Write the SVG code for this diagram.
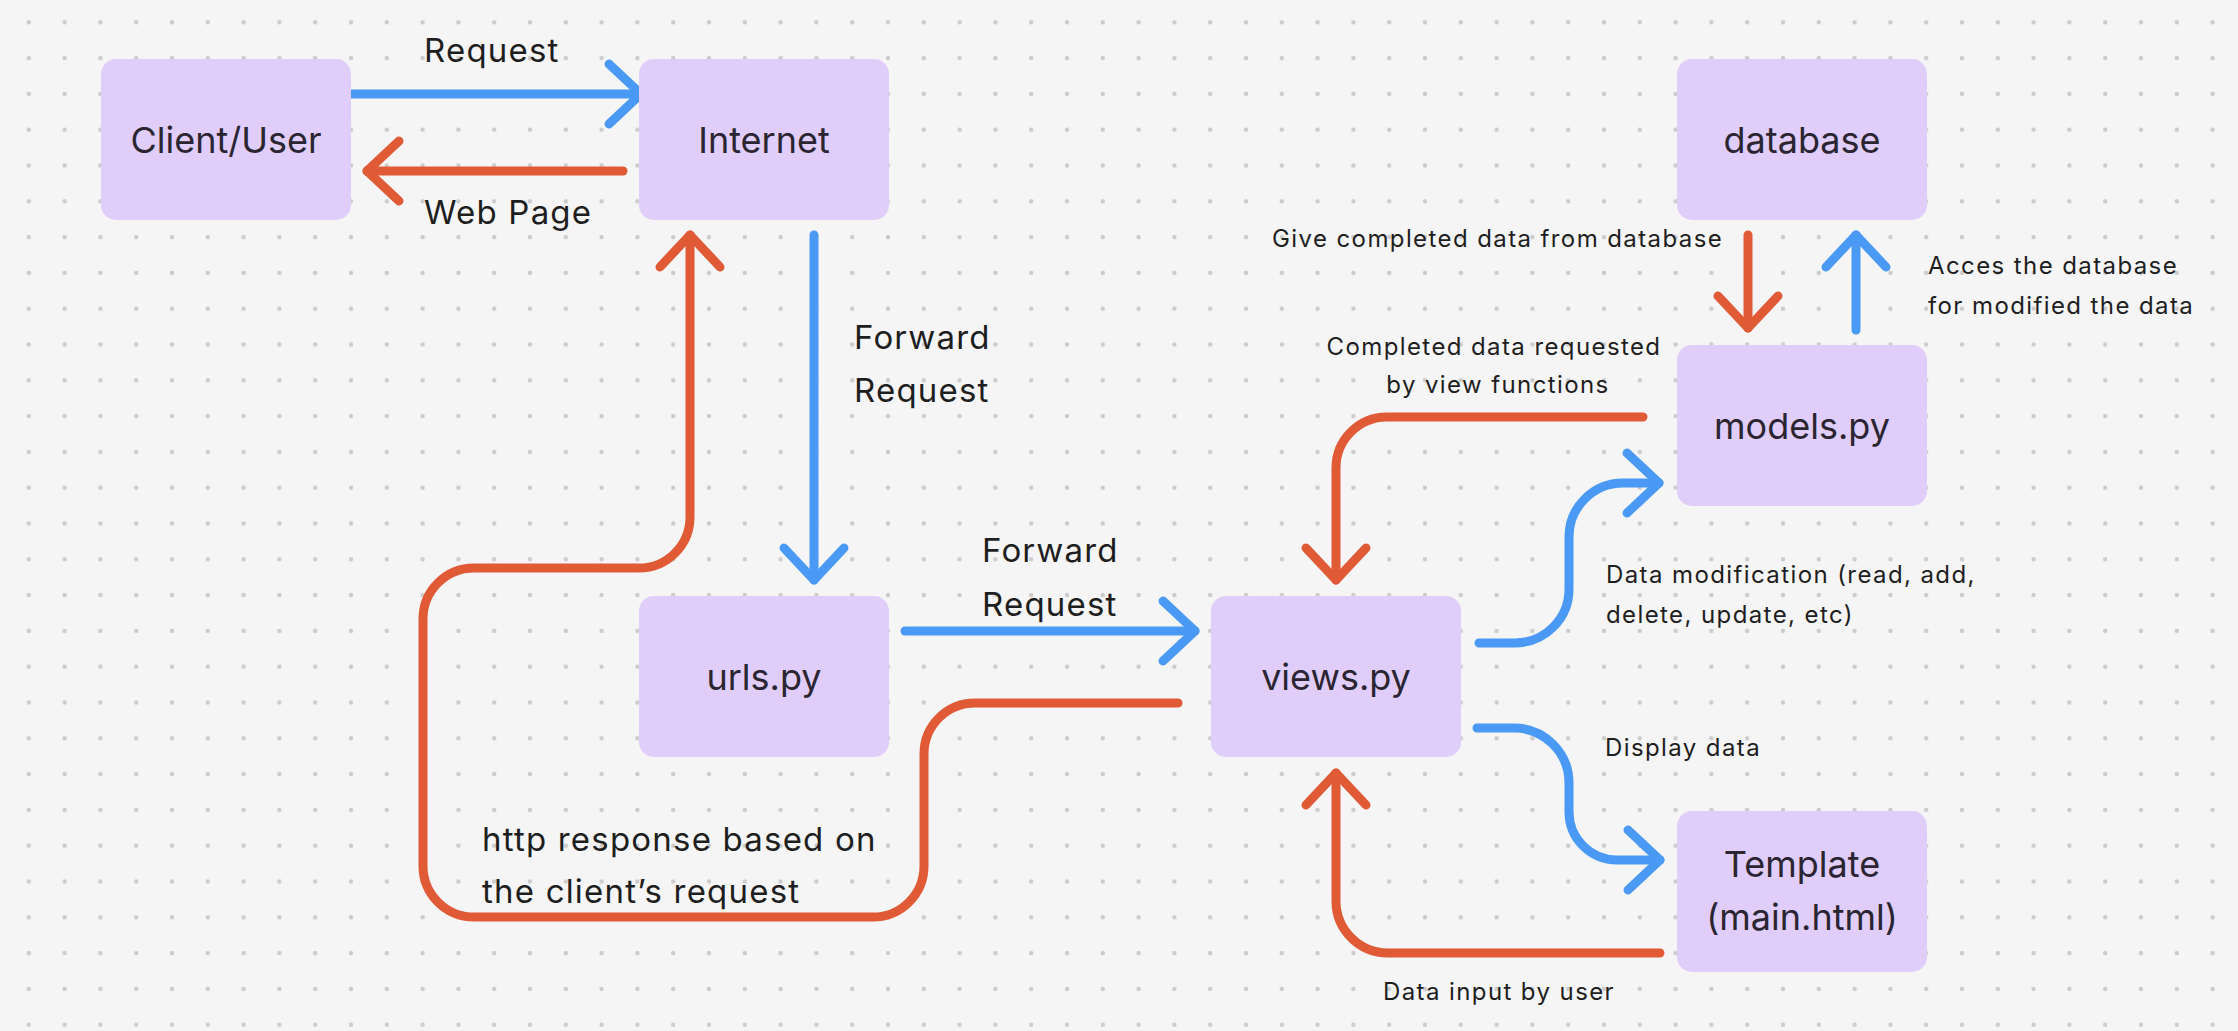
<svg xmlns="http://www.w3.org/2000/svg" width="2238" height="1031" viewBox="0 0 2238 1031">
<defs>
<pattern id="dots" x="10.9" y="4.4" width="35.8" height="35.8" patternUnits="userSpaceOnUse"><circle cx="17.9" cy="17.9" r="2.2" fill="#cbcbcb"/></pattern>
<marker id="ab" markerUnits="userSpaceOnUse" markerWidth="90" markerHeight="90" viewBox="-45 -45 90 90" refX="0" refY="0" orient="auto" overflow="visible"><path d="M-32,-30 L0,0 L-32,30" fill="none" stroke="#4A9AF5" stroke-width="9" stroke-linecap="round" stroke-linejoin="round"/></marker>
<marker id="ao" markerUnits="userSpaceOnUse" markerWidth="90" markerHeight="90" viewBox="-45 -45 90 90" refX="0" refY="0" orient="auto" overflow="visible"><path d="M-32,-30 L0,0 L-32,30" fill="none" stroke="#E05A36" stroke-width="9" stroke-linecap="round" stroke-linejoin="round"/></marker>
</defs>
<style>
.node rect{fill:#E0CDFA;}
.node text{font-family:Inter,"Noto Sans",sans-serif;font-size:36px;fill:#2a2531;text-anchor:middle;}
.c{fill:none;stroke-width:9;stroke-linecap:round;stroke-linejoin:round;}
.b{stroke:#4A9AF5;marker-end:url(#ab);}
.o{stroke:#E05A36;marker-end:url(#ao);}
.lbl{font-family:Inter,"Noto Sans",sans-serif;font-size:33px;letter-spacing:1.2px;fill:#1e1e1e;}
.sl{font-family:Inter,"Noto Sans",sans-serif;font-size:24px;letter-spacing:1.4px;fill:#1e1e1e;}
</style>
<rect width="2238" height="1031" fill="#f5f5f5"/>
<rect width="2238" height="1031" fill="url(#dots)"/>

<g id="connectors">
<path class="c b" d="M349,94 H641"/>
<path class="c o" d="M623,171 H367"/>
<path class="c b" d="M814,235 V580"/>
<path class="c b" d="M905,631 H1195"/>
<path class="c o" d="M1178,703 H975 A51,51 0 0 0 924,754 V866 A51,51 0 0 1 873,917 H474 A51,51 0 0 1 423,866 V619 A51,51 0 0 1 474,568 H639 A51,51 0 0 0 690,517 V235"/>
<path class="c o" d="M1748,235 V328"/>
<path class="c b" d="M1856,330 V235"/>
<path class="c o" d="M1643,417 H1387 A51,51 0 0 0 1336,468 V580"/>
<path class="c b" d="M1479,643 H1515 A54,54 0 0 0 1569,589 V537 A54,54 0 0 1 1623,483 H1659"/>
<path class="c b" d="M1477,728 H1514 A55,55 0 0 1 1569,783 V812 A48,48 0 0 0 1617,860 H1660"/>
<path class="c o" d="M1660,953 H1388 A52,52 0 0 1 1336,901 V773"/>
</g>

<g id="labels">
<text class="lbl" x="424" y="62">Request</text>
<text class="lbl" x="424" y="224">Web Page</text>
<text class="lbl" x="854" y="349">Forward</text>
<text class="lbl" x="854" y="402">Request</text>
<text class="lbl" x="982" y="562">Forward</text>
<text class="lbl" x="982" y="616">Request</text>
<text class="lbl" x="482" y="851">http response based on</text>
<text class="lbl" x="482" y="903">the client’s request</text>
<text class="sl" x="1272" y="247">Give completed data from database</text>
<text class="sl" x="1928" y="274">Acces the database</text>
<text class="sl" x="1928" y="314">for modified the data</text>
<text class="sl" x="1494" y="355" text-anchor="middle">Completed data requested</text>
<text class="sl" x="1498" y="393" text-anchor="middle">by view functions</text>
<text class="sl" x="1606" y="583">Data modification (read, add,</text>
<text class="sl" x="1606" y="623">delete, update, etc)</text>
<text class="sl" x="1605" y="756">Display data</text>
<text class="sl" x="1383" y="1000">Data input by user</text>
</g>

<g id="client" class="node"><rect x="101" y="59" width="250" height="161" rx="15"/><text x="226" y="152.7">Client/User</text></g>
<g id="internet" class="node"><rect x="639" y="59" width="250" height="161" rx="15"/><text x="764" y="152.7">Internet</text></g>
<g id="database" class="node"><rect x="1677" y="59" width="250" height="161" rx="15"/><text x="1802" y="152.7">database</text></g>
<g id="models" class="node"><rect x="1677" y="345" width="250" height="161" rx="15"/><text x="1802" y="438.5">models.py</text></g>
<g id="urls" class="node"><rect x="639" y="596" width="250" height="161" rx="15"/><text x="764" y="689.5">urls.py</text></g>
<g id="views" class="node"><rect x="1211" y="596" width="250" height="161" rx="15"/><text x="1336" y="689.5">views.py</text></g>
<g id="template" class="node"><rect x="1677" y="811" width="250" height="161" rx="15"/><text x="1802" y="877">Template</text><text x="1802" y="930">(main.html)</text></g>
</svg>
